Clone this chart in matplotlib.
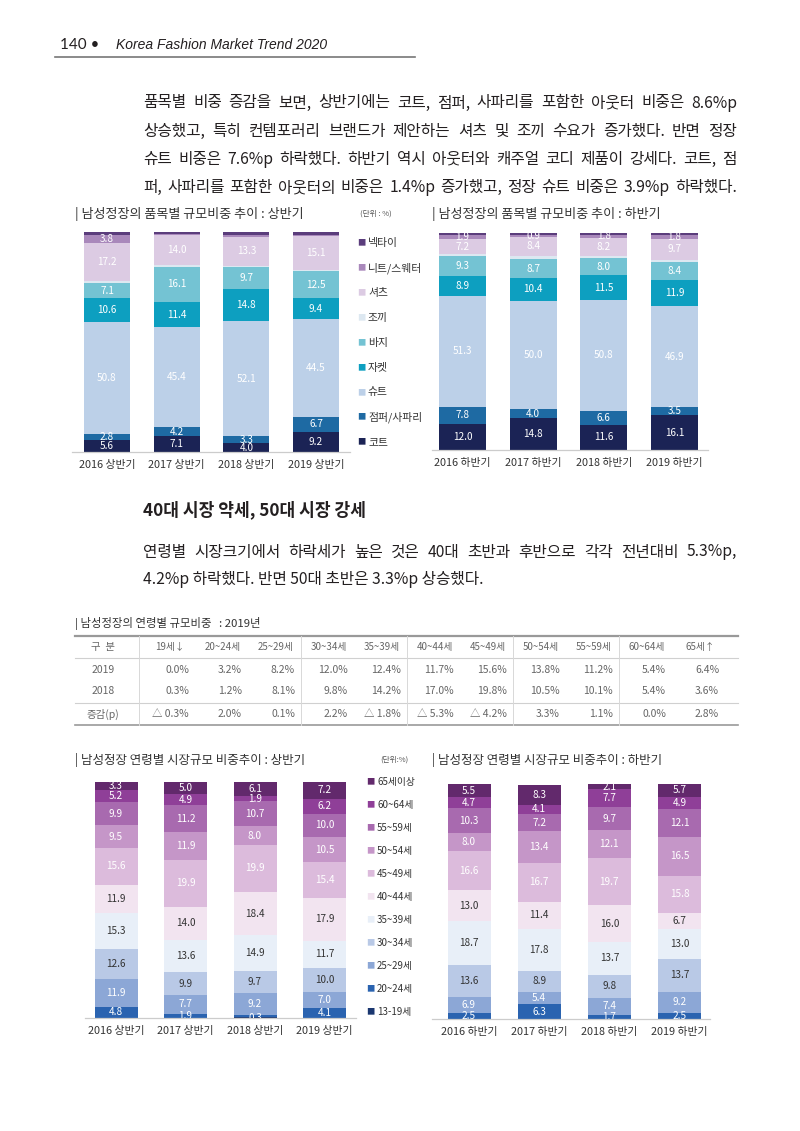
import numpy as np
import matplotlib.pyplot as plt

plt.rcParams['font.family'] = ['Noto Sans CJK KR', 'DejaVu Sans']

W, H = 800, 1131

# ---- data ----
years = ['2016', '2017', '2018', '2019']

items = ['코트', '점퍼/사파리', '슈트', '자켓', '바지', '조끼', '셔츠', '니트/스웨터', '넥타이']
item_colors = ['#1b2355', '#1e6aa3', '#bcd0e8', '#0d9fc0', '#74c3d3',
               '#dde8f1', '#dccbe3', '#a988bb', '#5b3d7c']
item_h1 = [
    [5.6, 7.1, 4.0, 9.2],
    [2.8, 4.2, 3.3, 6.7],
    [50.8, 45.4, 52.1, 44.5],
    [10.6, 11.4, 14.8, 9.4],
    [7.1, 16.1, 9.7, 12.5],
    [0.9, 0.6, 0.6, 0.6],
    [17.2, 14.0, 13.3, 15.1],
    [3.8, 0.4, 0.8, 0.6],
    [1.2, 0.9, 1.4, 1.4],
]
item_h2 = [
    [12.0, 14.8, 11.6, 16.1],
    [7.8, 4.0, 6.6, 3.5],
    [51.3, 50.0, 50.8, 46.9],
    [8.9, 10.4, 11.5, 11.9],
    [9.3, 8.7, 8.0, 8.4],
    [0.8, 1.7, 0.8, 0.9],
    [7.2, 8.4, 8.2, 9.7],
    [1.9, 0.9, 1.8, 1.8],
    [0.8, 1.1, 0.7, 0.8],
]

ages = ['13-19세', '20~24세', '25~29세', '30~34세', '35~39세', '40~44세',
        '45~49세', '50~54세', '55~59세', '60~64세', '65세이상']
age_colors = ['#1a3770', '#2a63b0', '#8ca7d6', '#b9c9e6', '#e8eff8', '#f2e4f0',
              '#dcbbdc', '#c596c8', '#a86aaf', '#8f3f98', '#62296c']
age_h1 = [
    [0.0, 0.0, 0.3, 0.0],
    [4.8, 1.9, 0.9, 4.1],
    [11.9, 7.7, 9.2, 7.0],
    [12.6, 9.9, 9.7, 10.0],
    [15.3, 13.6, 14.9, 11.7],
    [11.9, 14.0, 18.4, 17.9],
    [15.6, 19.9, 19.9, 15.4],
    [9.5, 11.9, 8.0, 10.5],
    [9.9, 11.2, 10.7, 10.0],
    [5.2, 4.9, 1.9, 6.2],
    [3.3, 5.0, 6.1, 7.2],
]
age_h2 = [
    [0.0, 0.0, 0.0, 0.0],
    [2.5, 6.3, 1.7, 2.5],
    [6.9, 5.4, 7.4, 9.2],
    [13.6, 8.9, 9.8, 13.7],
    [18.7, 17.8, 13.7, 13.0],
    [13.0, 11.4, 16.0, 6.7],
    [16.6, 16.7, 19.7, 15.8],
    [8.0, 13.4, 12.1, 16.5],
    [10.3, 7.2, 9.7, 12.1],
    [4.7, 4.1, 7.7, 4.9],
    [5.5, 8.3, 2.1, 5.7],
]

tbl_cols = ['19세↓', '20~24세', '25~29세', '30~34세', '35~39세', '40~44세',
            '45~49세', '50~54세', '55~59세', '60~64세', '65세↑']
tbl_2019 = [0.0, 3.2, 8.2, 12.0, 12.4, 11.7, 15.6, 13.8, 11.2, 5.4, 6.4]
tbl_2018 = [0.3, 1.2, 8.1, 9.8, 14.2, 17.0, 19.8, 10.5, 10.1, 5.4, 3.6]
tbl_diff = [-0.3, 2.0, 0.1, 2.2, -1.8, -5.3, -4.2, 3.3, 1.1, 0.0, 2.8]

para1 = ['품목별 비중 증감을 보면, 상반기에는 코트, 점퍼, 사파리를 포함한 아웃터 비중은 8.6%p',
         '상승했고, 특히 컨템포러리 브랜드가 제안하는 셔츠 및 조끼 수요가 증가했다. 반면 정장',
         '슈트 비중은 7.6%p 하락했다. 하반기 역시 아웃터와 캐주얼 코디 제품이 강세다. 코트, 점',
         '퍼, 사파리를 포함한 아웃터의 비중은 1.4%p 증가했고, 정장 슈트 비중은 3.9%p 하락했다.']
para2 = ['연령별 시장크기에서 하락세가 높은 것은 40대 초반과 후반으로 각각 전년대비 5.3%p,',
         '4.2%p 하락했다. 반면 50대 초반은 3.3%p 상승했다.']

# ---- page ----
fig = plt.figure(figsize=(W / 100, H / 100), dpi=100)
page = fig.add_axes([0, 0, 1, 1])
page.set_xlim(0, W)
page.set_ylim(H, 0)
page.axis('off')
r = fig.canvas.get_renderer()
ink = '#231f20'
body = 11.3

page.text(60, 45, '140 •', fontsize=11, color=ink, va='center', family=['Lato', 'DejaVu Sans'])
page.text(116, 45, 'Korea Fashion Market Trend 2020', fontsize=10, style='italic', color=ink,
          va='center', family=['Liberation Sans Narrow', 'Liberation Sans'])
page.plot([55, 415], [57, 57], color='#777777', lw=1.2)


def justify(line, x0, x1, y, size):
    words = line.split(' ')
    objs = [page.text(x0, y, w, fontsize=size, color=ink, va='center') for w in words]
    widths = [o.get_window_extent(r).width for o in objs]
    gap = (x1 - x0 - sum(widths)) / (len(words) - 1)
    if gap < 3:  # too tight, shrink this line a bit
        for o in objs:
            o.remove()
        return justify(line, x0, x1, y, size - 0.2)
    x = x0
    for o, w in zip(objs, widths):
        o.set_x(x)
        x += w + gap


for k, line in enumerate(para1):
    justify(line, 143, 737, 103 + 28.2 * k, body)

page.text(143, 510, '40대 시장 약세, 50대 시장 강세', fontsize=12.3, fontweight='bold', color=ink, va='center')
justify(para2[0], 143, 737, 552, body)
page.text(143, 580, para2[1], fontsize=body, color=ink, va='center')


# ---- charts ----
def stacked(x0, x1, top, base, c_first, c_last, bar_px, data, colors, labels_fn, color_fn, xlabels):
    step = (c_last - c_first) / 3
    ax = fig.add_axes([x0 / W, 1 - base / H, (x1 - x0) / W, (base - top) / H])
    ax.set_xlim((x0 - c_first) / step, (x1 - c_first) / step)
    ax.set_ylim(0, 100)
    ax.patch.set_alpha(0)
    x = np.arange(4)
    bottom = np.zeros(4)
    for i, (vals, col) in enumerate(zip(data, colors)):
        vals = np.array(vals, dtype=float)
        ax.bar(x, vals, bar_px / step, bottom=bottom, color=col, linewidth=0)
        for j in range(4):
            if labels_fn(i, vals[j]):
                ax.text(x[j], bottom[j] + vals[j] / 2, f'{vals[j]:.1f}', ha='center', va='center',
                        fontsize=7.2, color=color_fn(i), clip_on=True)
        bottom += vals
    for s in ['top', 'left', 'right']:
        ax.spines[s].set_visible(False)
    ax.spines['bottom'].set_color('#cccccc')
    ax.spines['bottom'].set_linewidth(0.9)
    ax.set_yticks([])
    ax.set_xticks(x)
    ax.set_xticklabels(xlabels, fontsize=7.8, color='#333333')
    ax.tick_params(axis='x', length=0, pad=6)
    return ax


def item_label(i, v):
    return items[i] not in ('조끼', '넥타이') and v >= 0.9


def age_label(i, v):
    return v >= 1.0 or (i == 0 and v > 0)


def age_txt(i):
    return '#333333' if i in (3, 4, 5) else 'white'


h1_lab = [y + ' 상반기' for y in years]
h2_lab = [y + ' 하반기' for y in years]

stacked(72, 350, 232, 452, 107, 316, 46, item_h1, item_colors, item_label, lambda i: 'white', h1_lab)
stacked(432, 708, 233, 450, 462.5, 674.5, 47, item_h2, item_colors, item_label, lambda i: 'white', h2_lab)
stacked(85, 356, 782, 1018, 116, 324.5, 43, age_h1, age_colors, age_label, age_txt, h1_lab)
stacked(432, 710, 784, 1019, 469, 679.5, 43, age_h2, age_colors, age_label, age_txt, h2_lab)

tc = '#333333'
page.text(75, 214, '| 남성정장의 품목별 규모비중 추이 : 상반기', fontsize=9.4, color=tc, va='center')
page.text(432, 214, '| 남성정장의 품목별 규모비중 추이 : 하반기', fontsize=9.4, color=tc, va='center')
page.text(360, 214, '(단위 : %)', fontsize=5.5, color='#555555', va='center')
page.text(75, 760, '| 남성정장 연령별 시장규모 비중추이 : 상반기', fontsize=9.0, color=tc, va='center')
page.text(432, 760, '| 남성정장 연령별 시장규모 비중추이 : 하반기', fontsize=9.0, color=tc, va='center')
page.text(380, 760, '(단위:%)', fontsize=5.5, color='#555555', va='center')

# legends
for k, (name, col) in enumerate(zip(items[::-1], item_colors[::-1])):
    y = 243 + 24.9 * k
    page.text(357, y, '■', fontsize=6, color=col, va='center')
    page.text(368, y, name, fontsize=7.8, color=tc, va='center')
for k, (name, col) in enumerate(zip(ages[::-1], age_colors[::-1])):
    y = 782 + 23 * k
    page.text(366, y, '■', fontsize=6, color=col, va='center')
    page.text(377, y, name, fontsize=7, color=tc, va='center')

# ---- table ----
page.text(75, 623, '| 남성정장의 연령별 규모비중   : 2019년', fontsize=8.2, color=tc, va='center')
gc = '#666666'
page.plot([75, 738], [636, 636], color='#999999', lw=1.6)
page.plot([75, 738], [658, 658], color='#d0d0d0', lw=0.8)
page.plot([75, 738], [703, 703], color='#d0d0d0', lw=0.8)
page.plot([75, 738], [725, 725], color='#999999', lw=1.2)
for xv in [139, 301, 407, 513, 619]:
    page.plot([xv, xv], [636, 725], color='#d8d8d8', lw=0.7)
page.text(103, 647, '구  분', fontsize=7.5, color=gc, ha='center', va='center')
page.text(103, 670, '2019', fontsize=7.5, color=gc, ha='center', va='center')
page.text(103, 691, '2018', fontsize=7.5, color=gc, ha='center', va='center')
page.text(103, 714, '증감(p)', fontsize=7.5, color=gc, ha='center', va='center')
for i, name in enumerate(tbl_cols):
    cx = 170 + 53 * i
    page.text(cx, 647, name, fontsize=7, color=gc, ha='center', va='center')
    page.text(cx + 19, 670, f'{tbl_2019[i]:.1f}%', fontsize=7.5, color=gc, ha='right', va='center')
    page.text(cx + 19, 691, f'{tbl_2018[i]:.1f}%', fontsize=7.5, color=gc, ha='right', va='center')
    d = tbl_diff[i]
    s = f'△ {abs(d):.1f}%' if d < 0 else f'{d:.1f}%'
    page.text(cx + 19, 714, s, fontsize=7.5, color=gc, ha='right', va='center')

fig.savefig('out.png', dpi=100, facecolor='white')
